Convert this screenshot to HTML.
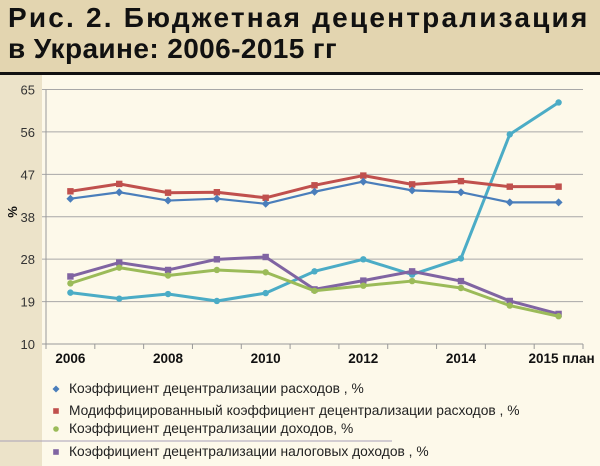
<!DOCTYPE html>
<html><head><meta charset="utf-8"><style>
html,body{margin:0;padding:0;}
body{width:600px;height:466px;overflow:hidden;background:#fdf9ea;font-family:"Liberation Sans",sans-serif;position:relative;}
#title{position:absolute;left:0;top:0;width:600px;height:72px;background:#e3d5b0;border-bottom:3px solid #111;}
#title div{position:absolute;left:8px;font-weight:bold;font-size:28px;color:#111;white-space:nowrap;}
#strip{position:absolute;left:0;top:75px;width:42px;height:391px;background:#ece3c9;}
svg{position:absolute;left:0;top:0;}
</style></head><body>
<div id="title">
<div style="top:2px;letter-spacing:2.2px">Рис. 2. Бюджетная децентрализация</div>
<div style="top:33px;letter-spacing:0.4px">в Украине: 2006-2015 гг</div>
</div>
<div id="strip"></div>
<svg id="chart" width="600" height="466"></svg>
<script>
const categories=["2006","2007","2008","2009","2010","2011","2012","2013","2014","2015","2015 план"];
const xLabels=["2006","","2008","","2010","","2012","","2014","","2015 план"];
const yTicks=[10,19,28,38,47,56,65];
const seriesExp=[41.4,42.8,41.0,41.4,40.3,42.9,45.1,43.2,42.8,40.6,40.6];
const seriesModExp=[43.0,44.6,42.7,42.8,41.6,44.3,46.4,44.5,45.2,44.0,44.0];
const seriesRev=[23.1,26.5,24.8,26.0,25.5,21.5,22.6,23.6,22.1,18.3,16.0];
const seriesTax=[24.6,27.6,26.0,28.3,28.8,21.8,23.7,25.7,23.6,19.3,16.5];
const seriesOther=[21.1,19.8,20.8,19.3,21.0,25.7,28.3,25.0,28.5,55.3,62.2];
const legendLabels=["Коэффициент децентрализации расходов , %","Модиффицированныый коэффициент децентрализации расходов , %","Коэффициент децентрализации доходов, %","Коэффициент децентрализации налоговых доходов , %"];

const svg=document.getElementById('chart');
const NS="http://www.w3.org/2000/svg";
const L=46,R=583,T=89.5,B=344,YMIN=10,YMAX=65;
const bw=(R-L)/categories.length;
function x(i){return L+bw*(i+0.5);}
function y(v){return B-(v-YMIN)/(YMAX-YMIN)*(B-T);}
function mk(tag,attrs){const e=document.createElementNS(NS,tag);for(const k in attrs)e.setAttribute(k,attrs[k]);svg.appendChild(e);return e;}

yTicks.forEach((t,i)=>{
  const yy=y(YMIN+(YMAX-YMIN)*i/(yTicks.length-1));
  const g=mk('line',{x1:L-4,x2:R,y1:yy,y2:yy,stroke:i===0?'#999':'#a8a8a8','stroke-width':1});
  
  
  const tx=mk('text',{x:35,y:yy+5,'text-anchor':'end','font-size':13,fill:'#333'});
  tx.textContent=t;
  
  
});
const ax=mk('line',{x1:L,x2:L,y1:T,y2:B,stroke:'#999','stroke-width':1});


for(let k=0;k<=categories.length;k++){
  const tk=mk('line',{x1:L+bw*k,x2:L+bw*k,y1:B,y2:B+5,stroke:'#999','stroke-width':1});
  
  
}
xLabels.forEach((lab,i)=>{
  if(!lab)return;
  const tx=mk('text',{x:i===10?x(i)+3:x(i),y:363,'text-anchor':'middle','font-size':13.5,'font-weight':'bold',fill:'#111'});
  tx.textContent=lab;
  
  
});
const yl=mk('text',{x:0,y:0,transform:'translate(17,212) rotate(-90)','text-anchor':'middle','font-size':13,'font-weight':'bold',fill:'#111'});
yl.textContent='%';



function marker(type,cx,cy,color,s){
  let e;
  if(type==='diamond')e=mk('polygon',{points:`${cx},${cy-s} ${cx+s},${cy} ${cx},${cy+s} ${cx-s},${cy}`,fill:color});
  else if(type==='square')e=mk('rect',{x:cx-s*0.8,y:cy-s*0.8,width:s*1.6,height:s*1.6,fill:color});
  else e=mk('circle',{cx:cx,cy:cy,r:s*0.8,fill:color});
  return e;
}
const series=[
 {name:'series-other',data:seriesOther,color:'#4bacc6',m:'circle',w:3},
 {name:'series-tax-revenue',data:seriesTax,color:'#8064a2',m:'square',w:3},
 {name:'series-revenue',data:seriesRev,color:'#9bbb59',m:'circle',w:3},
 {name:'series-mod-expenditure',data:seriesModExp,color:'#c0504d',m:'square',w:3},
 {name:'series-expenditure',data:seriesExp,color:'#4a7ebb',m:'diamond',w:2.2}
];
series.forEach(s=>{
  const pl=mk('polyline',{points:s.data.map((v,i)=>x(i)+','+y(v)).join(' '),fill:'none',stroke:s.color,'stroke-width':s.w,'stroke-linejoin':'round'});
  
  
  s.data.forEach((v,i)=>{
    const p=marker(s.m,x(i),y(v),s.color,4);
    
    
  });
});
const legY=[393,415,433,456];
const legC=['#4a7ebb','#c0504d','#9bbb59','#8064a2'];
const legM=['diamond','square','circle','square'];
const sep=mk('line',{x1:0,x2:392,y1:441,y2:441,stroke:'#a8a0b8','stroke-width':1});


legendLabels.forEach((lab,i)=>{
  const m=marker(legM[i],56,legY[i]-4,legC[i],3.5);
  
  
  const t=mk('text',{x:69,y:legY[i],'font-size':13.8,fill:'#222'});
  t.textContent=lab;
  
  
});
</script>
</body></html>
